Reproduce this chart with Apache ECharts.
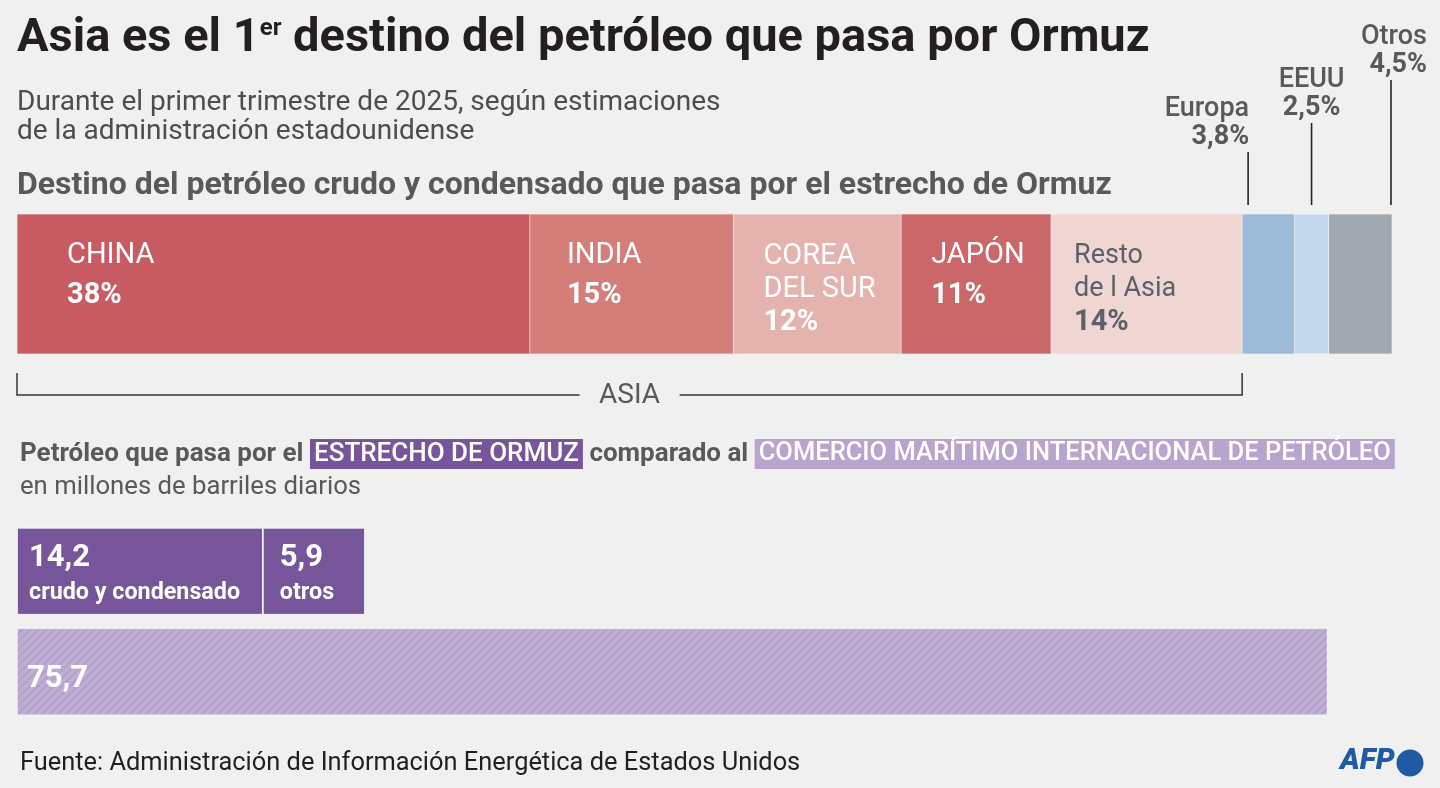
<!DOCTYPE html>
<html><head><meta charset="utf-8">
<script src="https://cdn.jsdelivr.net/npm/echarts@6/dist/echarts.min.js"></script>
<style>html,body{margin:0;padding:0;background:#f0f0f0}#c{width:1440px;height:788px}</style>
</head><body><div id="c"></div>
<script>
// ---- data ----
const destinos = ['CHINA', 'INDIA', 'COREA\nDEL SUR', 'JAPÓN', 'Resto\nde l Asia', 'Europa', 'EEUU', 'Otros'];
const cuotas = [37.3, 14.8, 12.2, 10.9, 13.9, 3.8, 2.5, 4.6];
const cuotaEtiquetas = ['38%', '15%', '12%', '11%', '14%', '3,8%', '2,5%', '4,5%'];
const esAsia = [true, true, true, true, true, false, false, false];
const flujoCategorias = ['Ormuz', 'Mundo'];
const ormuzCrudo = [14.2, '-'];
const ormuzOtros = [5.9, '-'];
const comercioMundial = ['-', 75.7];
const flujoNombres = ['crudo y condensado', 'otros', ''];

// ---- style ----
const FONT = 'Roboto, "Noto Sans", sans-serif';
const colores = ['#c95c62', '#d47e79', '#e4b3ae', '#cb6669', '#efd6d3', '#9dbad7', '#c5d9ee', '#a3a7af'];
const labelInset = [50, 37, 30, 30, 23];
const flujoInset = [12, 17, 10];
const PURPLE = '#77559a', LILAC = '#b6a5cc', GRAY = '#58595b', DARK = '#231f20';

// hatch tile for the world-trade bar ("/" stripes)
const tile = document.createElement('canvas');
tile.width = 8; tile.height = 8;
(function () {
  const c = tile.getContext('2d');
  c.fillStyle = '#b5a3cb'; c.fillRect(0, 0, 8, 8);
  c.strokeStyle = '#c0b0d6'; c.lineWidth = 2.8;
  [[-4, 4, 4, -4], [0, 8, 8, 0], [4, 12, 12, 4]].forEach(s => {
    c.beginPath(); c.moveTo(s[0], s[1]); c.lineTo(s[2], s[3]); c.stroke();
  });
})();

const chart = echarts.init(document.getElementById('c'), null, {renderer: 'canvas'});

function fmt(v) { return String(v).replace('.', ','); }

const topSeries = destinos.map((d, i) => {
  const lines = d.split('\n');
  const isResto = i === 4;
  const lh = lines.length === 1 ? 40 : 33;
  return {
    type: 'bar', name: d, xAxisIndex: 0, yAxisIndex: 0, stack: 'destino', barWidth: 140,
    data: [cuotas[i]],
    itemStyle: {color: colores[i], borderColor: 'rgba(255,255,255,0.3)', borderWidth: 0.5},
    label: esAsia[i] ? {
      show: true,
      position: [labelInset[i], lines.length === 1 ? 22 : 26],
      formatter: () => lines.map(l => '{' + (isResto ? 'rg' : 'r') + '|' + l + '}').join('\n') + '\n{' + (isResto ? 'pg' : 'p') + '|' + cuotaEtiquetas[i] + '}',
      rich: {
        r: {fontFamily: FONT, fontSize: 29, color: '#fff', lineHeight: lh},
        p: {fontFamily: FONT, fontSize: 29, fontWeight: 'bold', color: '#fff', lineHeight: lh},
        rg: {fontFamily: FONT, fontSize: 27, color: '#5c6168', lineHeight: lh},
        pg: {fontFamily: FONT, fontSize: 29, fontWeight: 'bold', color: '#5c6168', lineHeight: lh}
      }
    } : {show: false},
    emphasis: {disabled: true}
  };
});

const flujoRich = {
  v: {fontFamily: FONT, fontSize: 31, fontWeight: 'bold', color: '#fff', lineHeight: 36},
  s: {fontFamily: FONT, fontSize: 23.3, fontWeight: 'bold', color: '#fff', lineHeight: 34}
};
const bottomSeries = [ormuzCrudo, ormuzOtros, comercioMundial].map((arr, k) => ({
  type: 'bar', xAxisIndex: 1, yAxisIndex: 1, stack: 'flujo', barWidth: 87,
  data: arr,
  itemStyle: k < 2 ? {color: PURPLE, borderColor: '#ffffff', borderWidth: 0.8} : {
    color: {image: tile, repeat: 'repeat'}, borderColor: 'rgba(255,255,255,0.4)', borderWidth: 1
  },
  label: k < 2 ? {
    show: true, position: [flujoInset[k], 12],
    formatter: p => '{v|' + fmt(p.value) + '}\n{s|' + flujoNombres[k] + '}', rich: flujoRich
  } : {
    show: true, position: 'insideLeft', distance: flujoInset[k], offset: [0, 7],
    formatter: p => '{v|' + fmt(p.value) + '}', rich: flujoRich
  },
  emphasis: {disabled: true}
}));

chart.setOption({
  backgroundColor: '#f0f0f0',
  animation: false,
  grid: [
    {left: 17, top: 214, width: 1375, height: 140},
    {left: 17, top: 521, width: 1385, height: 201}
  ],
  xAxis: [
    {type: 'value', gridIndex: 0, min: 0, max: 100, show: false},
    {type: 'value', gridIndex: 1, min: 0, max: 80, show: false}
  ],
  yAxis: [
    {type: 'category', gridIndex: 0, data: ['destino'], show: false},
    {type: 'category', gridIndex: 1, data: flujoCategorias, inverse: true, show: false}
  ],
  series: topSeries.concat(bottomSeries)
});

// ---- annotations derived from scales ----
const cum = [0];
cuotas.forEach((v, i) => cum.push(cum[i] + v));
const px = v => chart.convertToPixel({xAxisIndex: 0, yAxisIndex: 0}, [v, 0])[0];
const barTop = 214;

const g = [];
// title
g.push({type: 'text', left: 17, top: 14, style: {
  text: '{t|Asia es el 1}{s|er}{t| destino del petróleo que pasa por Ormuz}',
  rich: {
    t: {fontFamily: FONT, fontSize: 47, fontWeight: 'bold', fill: DARK, lineHeight: 50},
    s: {fontFamily: FONT, fontSize: 24, fontWeight: 'bold', fill: DARK, lineHeight: 24, verticalAlign: 'top', padding: [3, 0, 0, 0]}
  }
}});
g.push({type: 'text', left: 17, top: 88, style: {
  text: 'Durante el primer trimestre de 2025, según estimaciones\nde la administración estadounidense',
  fontFamily: FONT, fontSize: 28, lineHeight: 29, fill: '#4d4d4f'
}});
g.push({type: 'text', left: 17, top: 169, style: {
  text: 'Destino del petróleo crudo y condensado que pasa por el estrecho de Ormuz',
  fontFamily: FONT, fontSize: 32, fontWeight: 'bold', lineHeight: 34, fill: GRAY
}});

// outside labels for non-Asian segments
const outside = [
  {i: 5, lineX: px(cum[5]) + 6, top: 152, align: 'right', dx: 1},
  {i: 6, lineX: (px(cum[6]) + px(cum[7])) / 2, top: 123, align: 'center', dx: 0},
  {i: 7, lineX: px(cum[8]) - 1, top: 80, align: 'right', dx: 36}
];
outside.forEach(o => {
  g.push({type: 'line', shape: {x1: o.lineX, y1: o.top, x2: o.lineX, y2: barTop - 9}, style: {stroke: '#2b2122', lineWidth: 1.6}});
  g.push({type: 'text', x: o.lineX + o.dx, y: o.top - 1, style: {
    text: '{n|' + destinos[o.i] + '}\n{p|' + cuotaEtiquetas[o.i] + '}',
    align: o.align, verticalAlign: 'bottom',
    rich: {
      n: {fontFamily: FONT, fontSize: 27, fontWeight: 500, fill: GRAY, lineHeight: 28, align: o.align},
      p: {fontFamily: FONT, fontSize: 27, fontWeight: 'bold', fill: GRAY, lineHeight: 28, align: o.align}
    }
  }});
});

// ASIA bracket
const asiaStart = px(cum[0]), asiaEnd = px(cum[5]);
const mid = (asiaStart + asiaEnd) / 2, gap = 50, by = 395;
const br = {stroke: '#333', lineWidth: 1.5};
g.push({type: 'polyline', shape: {points: [[asiaStart, 373], [asiaStart, by], [mid - gap, by]]}, style: Object.assign({fill: null}, br)});
g.push({type: 'polyline', shape: {points: [[mid + gap, by], [asiaEnd, by], [asiaEnd, 373]]}, style: Object.assign({fill: null}, br)});
g.push({type: 'text', x: mid, y: by + 1, style: {text: 'ASIA', fontFamily: FONT, fontSize: 28, fill: GRAY, align: 'center', verticalAlign: 'middle'}});

// second heading
g.push({type: 'text', left: 20, top: 439, style: {
  text: '{a|Petróleo que pasa por el }{b|ESTRECHO DE ORMUZ}{a| comparado al }{c|COMERCIO MARÍTIMO INTERNACIONAL DE PETRÓLEO}',
  rich: {
    a: {fontFamily: FONT, fontSize: 26, fontWeight: 'bold', fill: GRAY, lineHeight: 34},
    b: {fontFamily: FONT, fontSize: 26, fontWeight: 500, fill: '#fff', lineHeight: 34, backgroundColor: PURPLE, padding: [2, 4]},
    c: {fontFamily: FONT, fontSize: 25.5, fontWeight: 500, fill: '#fff', lineHeight: 34, backgroundColor: LILAC, padding: [2, 4]}
  }
}});
g.push({type: 'text', left: 20, top: 474, style: {
  text: 'en millones de barriles diarios', fontFamily: FONT, fontSize: 25.7, lineHeight: 28, fill: '#58595b'
}});

// footer
g.push({type: 'text', left: 20, top: 750, style: {
  text: 'Fuente: Administración de Información Energética de Estados Unidos',
  fontFamily: FONT, fontSize: 25.4, lineHeight: 28, fill: DARK
}});
g.push({type: 'text', x: 1340, y: 776, style: {
  text: 'AFP', fontFamily: FONT, fontSize: 30, fontWeight: 900, fontStyle: 'italic', fill: '#1f5aa5', verticalAlign: 'bottom'
}});
g.push({type: 'circle', shape: {cx: 1410, cy: 763, r: 13.5}, style: {fill: '#1f5aa5'}});

chart.setOption({graphic: g});
</script>
</body></html>
